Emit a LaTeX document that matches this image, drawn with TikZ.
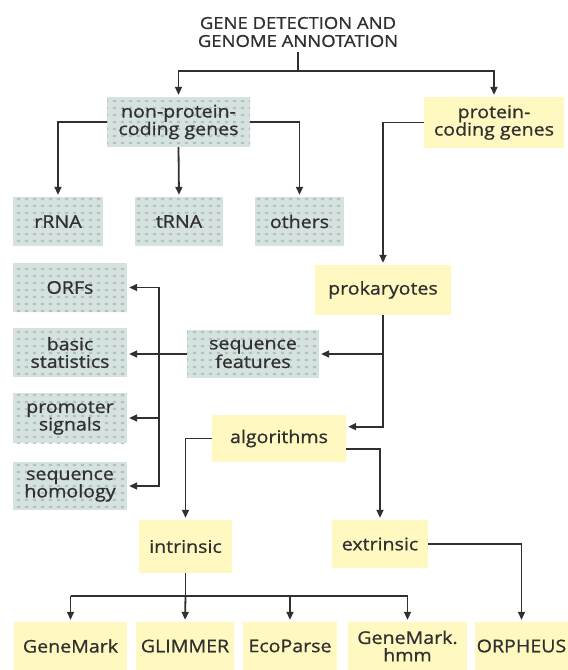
\documentclass[tikz,border=0pt]{standalone}
\usepackage{fontspec}
\setmainfont{Open Sans}[FakeStretch=1.12, UprightFeatures={FakeBold=0.9}]
\usetikzlibrary{arrows.meta,patterns.meta,calc}
\definecolor{ybox}{HTML}{FFF8C0}
\definecolor{gbg}{HTML}{D6E2DF}
\definecolor{gdot}{HTML}{AFC4C0}
\definecolor{ink}{HTML}{303030}
\tikzdeclarepattern{name=gdots, type=uncolored,
  bounding box={(0pt,0pt) and (8pt,7pt)}, tile size={(8pt,7pt)},
  code={\fill (1pt,1pt) rectangle (4.5pt,3.5pt);}}
\begin{document}
\begin{tikzpicture}[x=1pt,y=-1pt,
  every node/.style={font=\fontsize{17.5}{17.5}\selectfont, text=ink, align=center, inner sep=0pt},
  ybx/.style={fill=ybox},
  gbx/.style={preaction={fill=gbg}, pattern=gdots, pattern color=gdot},
  ln/.style={draw=ink, line width=1.8pt},
  arr/.style={ln, -{Triangle[width=7pt,length=8pt]}, shorten >=2pt}]
\useasboundingbox (0,0) rectangle (568,670);
\fill[white] (0,0) rectangle (568,670);
% title
\node[font=\fontsize{16.5}{18}\selectfont, inner sep=0pt, outer sep=5pt] (title) at (298,32) {GENE DETECTION AND\\GENOME ANNOTATION};
% nodes
\node[gbx, minimum width=143pt, minimum height=50pt] (np) at (178.5,122) {non-protein-\\coding genes};
\node[ybx, minimum width=140pt, minimum height=51pt] (pc) at (494,122.5) {protein-\\coding genes};
\node[gbx, minimum width=90pt, minimum height=49pt] (rrna) at (58,221.5) {rRNA};
\node[gbx, minimum width=88pt, minimum height=49pt] (trna) at (179,221.5) {tRNA};
\node[gbx, minimum width=89pt, minimum height=49pt] (others) at (299.5,221.5) {others};
\node[ybx, minimum width=136pt, minimum height=50pt] (prok) at (383,290) {prokaryotes};
\node[gbx, minimum width=114pt, minimum height=49pt] (orfs) at (70,287.5) {ORFs};
\node[gbx, minimum width=114pt, minimum height=49pt] (basic) at (70,352.5) {basic\\statistics};
\node[gbx, minimum width=132pt, minimum height=48pt] (seqf) at (253,354) {sequence\\features};
\node[gbx, minimum width=114pt, minimum height=50pt] (prom) at (70,418) {promoter\\signals};
\node[gbx, minimum width=114pt, minimum height=48pt] (homol) at (70,486) {sequence\\homology};
\node[ybx, minimum width=134pt, minimum height=47pt] (alg) at (279,438.5) {algorithms};
\node[ybx, minimum width=93pt, minimum height=53pt] (intr) at (185.5,546.5) {intrinsic};
\node[ybx, minimum width=96pt, minimum height=48pt] (extr) at (380,544) {extrinsic};
\node[ybx, minimum width=113pt, minimum height=48pt] (gm) at (70.5,646) {GeneMark};
\node[ybx, minimum width=98pt, minimum height=48pt] (gl) at (185,646) {GLIMMER};
\node[ybx, minimum width=94pt, minimum height=48pt] (eco) at (290,646) {EcoParse};
\node[ybx, minimum width=119pt, minimum height=48pt] (gmh) at (407.5,646) {GeneMark.\\hmm};
\node[ybx, minimum width=93pt, minimum height=48pt] (orph) at (521.5,646) {ORPHEUS};
% connectors
\coordinate (t1) at (298,71);
\draw[ln] (title.south) -- (t1);
\draw[arr] (t1) -| (np.north);
\draw[arr] (t1) -| (pc.north);
\draw[arr] (np.west) -| (rrna.north);
\draw[arr] (np.south) -- (trna.north);
\draw[arr] (np.east) -| (others.north);
\draw[arr] (pc.west) -| (prok.north);
\coordinate (algin) at ($(alg.north east)!0.25!(alg.south east)$);
\draw[arr] (prok.south) |- (algin);
\draw[arr] (prok.south |- seqf.east) -- (seqf.east);
\draw[arr] (seqf.west) -- (seqf.west -| basic.east);
\coordinate (bus) at (159,354);
\draw[arr] (bus) |- (orfs.east);
\draw[arr] (bus) |- (prom.east);
\draw[arr] (bus) |- (homol.east);
\draw[arr] (alg.west) -| (intr.north);
\coordinate (algout) at ($(alg.north east)!0.72!(alg.south east)$);
\draw[arr] (algout) -| (extr.north);
\draw[arr] (extr.east) -| (orph.north);
\coordinate (ib) at (185.5,596);
\draw[ln] (intr.south) -- (ib);
\draw[ln] (gm.north |- ib) -- (gmh.north |- ib);
\draw[arr] (gm.north |- ib) -- (gm.north);
\draw[arr] (ib) -- (gl.north);
\draw[arr] (eco.north |- ib) -- (eco.north);
\draw[arr] (gmh.north |- ib) -- (gmh.north);
\end{tikzpicture}
\end{document}
